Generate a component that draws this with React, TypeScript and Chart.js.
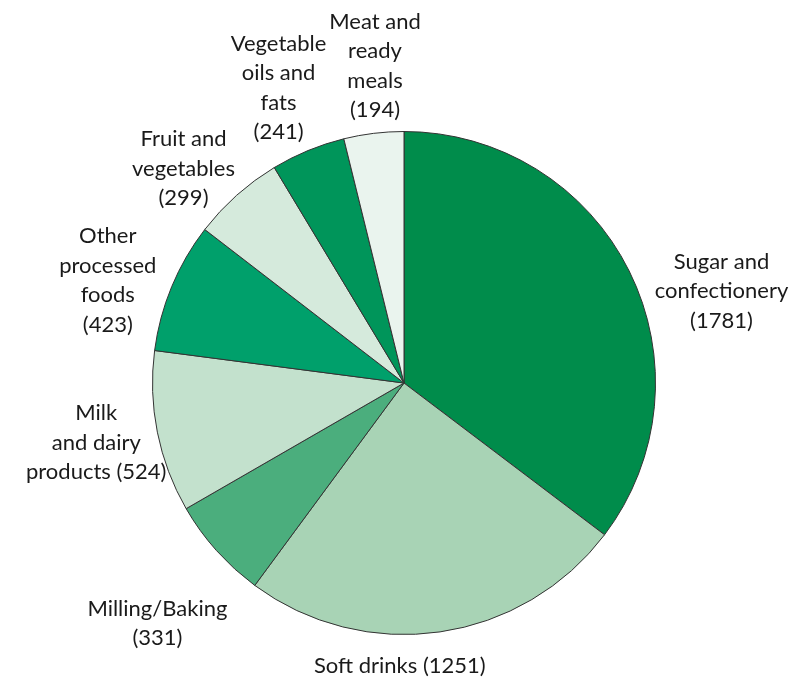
import React, { useEffect, useRef } from "react";
import { Chart, registerables } from "chart.js";

Chart.register(...registerables);

const categories = [
  "Sugar and confectionery",
  "Soft drinks",
  "Milling/Baking",
  "Milk and dairy products",
  "Other processed foods",
  "Fruit and vegetables",
  "Vegetable oils and fats",
  "Meat and ready meals",
];
const values = [1781, 1251, 331, 524, 423, 299, 241, 194];
const labelLines = [
  ["Sugar and", "confectionery", "(1781)"],
  ["Soft drinks (1251)"],
  ["Milling/Baking", "(331)"],
  ["Milk", "and dairy", "products (524)"],
  ["Other", "processed", "foods", "(423)"],
  ["Fruit and", "vegetables", "(299)"],
  ["Vegetable", "oils and", "fats", "(241)"],
  ["Meat and", "ready", "meals", "(194)"],
];
const colors = [
  "#008C4B",
  "#A8D3B5",
  "#4BAE7D",
  "#C3E1CD",
  "#00A06B",
  "#D5EADC",
  "#00955A",
  "#EAF4EE",
];
// label placement: angle tweak (deg) from slice mid-angle, extra distance beyond radius
const labelAngleTweak = [10.3, 9.1, -2.5, 0.3, -3.4, -4.1, -0.6, 1.7];
const labelExtra = [79, 31, 93, 62, 62, 56, 69, 67];

const labelPlugin = {
  id: "sliceLabels",
  afterDraw(chart: any) {
    const ctx = chart.ctx;
    const meta = chart.getDatasetMeta(0);
    ctx.save();
    ctx.fillStyle = "#1a1a1a";
    ctx.font = "22px Lato";
    ctx.textAlign = "center";
    ctx.textBaseline = "middle";
    const lh = 29.5;
    meta.data.forEach((arc: any, i: number) => {
      const p = arc.getProps(["x", "y", "startAngle", "endAngle", "outerRadius"], true);
      const mid = (p.startAngle + p.endAngle) / 2 + (labelAngleTweak[i] * Math.PI) / 180;
      const d = p.outerRadius + labelExtra[i];
      const cx = p.x + Math.cos(mid) * d;
      const cy = p.y + Math.sin(mid) * d;
      const lines = labelLines[i];
      const top = cy - ((lines.length - 1) * lh) / 2;
      lines.forEach((t, j) => ctx.fillText(t, cx, top + j * lh));
    });
    ctx.restore();
  },
};

export default function App() {
  const ref = useRef<HTMLCanvasElement | null>(null);
  useEffect(() => {
    document.body.style.margin = "0";
    if (!ref.current) return;
    const chart = new Chart(ref.current, {
      type: "pie",
      data: {
        labels: categories,
        datasets: [
          {
            data: values,
            backgroundColor: colors,
            borderColor: "#333333",
            borderWidth: 1,
          },
        ],
      },
      options: {
        animation: false,
        responsive: false,
        maintainAspectRatio: false,
        devicePixelRatio: 1,
        layout: { padding: { top: 131, bottom: 46, left: 152, right: 140 } },
        plugins: {
          legend: { display: false },
          tooltip: { enabled: false },
        },
      },
      plugins: [labelPlugin],
    });
    return () => chart.destroy();
  }, []);
  return (
    <div style={{ width: 796, height: 681, background: "#fff" }}>
      <canvas ref={ref} width={796} height={681} />
    </div>
  );
}
